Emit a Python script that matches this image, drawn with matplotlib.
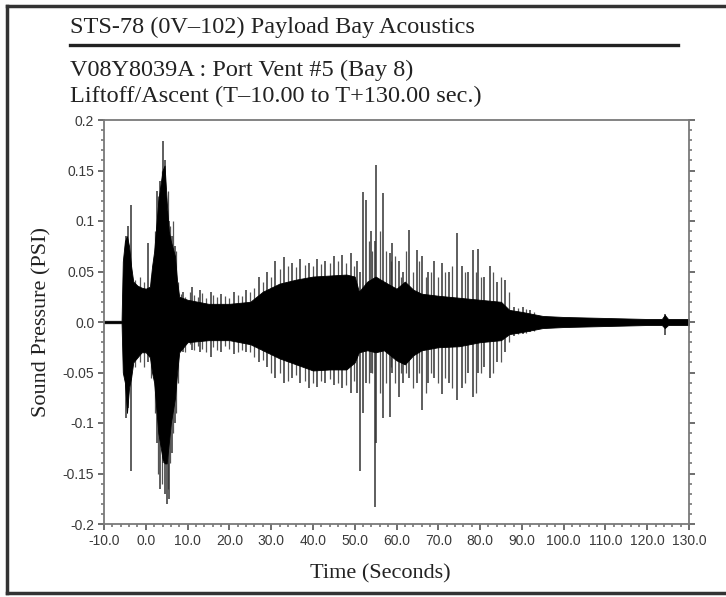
import matplotlib.pyplot as plt
from matplotlib.ticker import MultipleLocator
from matplotlib.lines import Line2D

# envelope of the dense black trace (time in s, upper and lower PSI)
env_t = [-10, -5.8, -5.5, -5.0, -4.5, -4.0, -3.5, -3.0, -2.0, -1.0, 0.0, 1.0, 1.5, 2.0, 3.0,
         4.0, 4.5, 5.0, 5.5, 6.0, 7.0, 7.5, 8.0, 10, 15, 20, 25, 28, 32, 36, 40, 44, 48, 50,
         51, 53, 55, 57, 60, 62, 64, 66, 70, 75, 80, 85, 87, 90, 95, 100, 110, 120, 123.5,
         124.2, 125, 130]
env_hi = [0.0012, 0.0012, 0.06, 0.08, 0.085, 0.075, 0.055, 0.04, 0.036, 0.034, 0.033, 0.035,
          0.055, 0.07, 0.12, 0.15, 0.155, 0.12, 0.09, 0.08, 0.065, 0.04, 0.025, 0.022, 0.018,
          0.018, 0.02, 0.03, 0.038, 0.042, 0.045, 0.046, 0.047, 0.045, 0.03, 0.04, 0.045, 0.04,
          0.033, 0.04, 0.032, 0.028, 0.026, 0.024, 0.022, 0.02, 0.012, 0.01, 0.006, 0.005,
          0.004, 0.003, 0.003, 0.007, 0.003, 0.003]
env_lo = [-0.0012, -0.0012, -0.05, -0.06, -0.09, -0.065, -0.055, -0.04, -0.035, -0.03, -0.03,
          -0.035, -0.05, -0.06, -0.11, -0.135, -0.14, -0.14, -0.12, -0.1, -0.075, -0.05, -0.03,
          -0.02, -0.018, -0.018, -0.022, -0.028, -0.036, -0.042, -0.048, -0.047, -0.047, -0.04,
          -0.03, -0.028, -0.03, -0.028, -0.038, -0.042, -0.033, -0.028, -0.025, -0.024, -0.02,
          -0.018, -0.012, -0.01, -0.006, -0.005, -0.004, -0.003, -0.003, -0.006, -0.003, -0.003]

# single peaks sticking out of the trace
spike_t = [-4.8, -4.2, -3.6, 0.6, 2.8, 3.5, 4.2, 4.6, 5.1, 5.6, 6.3, 7.0, 9, 11, 13, 15.5, 18,
           21, 24, 27, 29, 31, 33, 35, 37, 39, 41, 43, 45, 47, 49, 50.5, 51.3, 52.1, 52.8, 53.8,
           54.8, 55.2, 56.8, 58.4, 59, 60.5, 61.5, 63, 64.8, 66, 67.5, 69, 70.8, 72.5, 74.5,
           75.6, 77, 78.2, 79.5, 81, 82.4, 84, 86, 88, 90.3, 92, 124.2]
spike_hi = [0.085, 0.095, 0.116, 0.078, 0.13, 0.14, 0.179, 0.16, 0.11, 0.1, 0.085, 0.075, 0.03,
            0.035, 0.032, 0.03, 0.028, 0.03, 0.032, 0.045, 0.05, 0.06, 0.064, 0.058, 0.062,
            0.058, 0.062, 0.06, 0.065, 0.066, 0.068, 0.06, 0.05, 0.129, 0.121, 0.09, 0.08, 0.155,
            0.128, 0.068, 0.078, 0.06, 0.05, 0.091, 0.071, 0.065, 0.05, 0.06, 0.058, 0.05, 0.088,
            0.055, 0.05, 0.071, 0.072, 0.045, 0.055, 0.04, 0.042, 0.015, 0.015, 0.012, 0.008]
spike_lo = [-0.095, -0.085, -0.148, -0.04, -0.12, -0.165, -0.14, -0.17, -0.18, -0.175, -0.13,
            -0.1, -0.03, -0.028, -0.03, -0.035, -0.03, -0.032, -0.03, -0.04, -0.045, -0.055,
            -0.06, -0.055, -0.06, -0.065, -0.064, -0.06, -0.062, -0.065, -0.07, -0.07, -0.148,
            -0.09, -0.06, -0.05, -0.183, -0.12, -0.095, -0.094, -0.05, -0.074, -0.06, -0.055,
            -0.06, -0.087, -0.06, -0.055, -0.071, -0.06, -0.077, -0.065, -0.05, -0.074, -0.05,
            -0.045, -0.055, -0.04, -0.03, -0.014, -0.012, -0.01, -0.013]

# smaller ragged peaks along the edge of the trace
fringe_t = [-2.5, -1.5, -0.5, 1.2, 2.2, 3.0, 3.8, 5.3, 5.9, 6.6, 7.3, 7.8, 8.5, 9.5, 10.5,
            11.5, 12.5, 13.5, 14.5, 16, 17, 19, 20, 22, 23, 25, 26, 28, 30, 32, 34, 36, 38, 40,
            42, 44, 46, 48, 49.8, 53.3, 54.2, 56, 57.5, 58.8, 59.6, 61, 62.3, 64, 65.5, 67,
            68.2, 70, 71.7, 73.3, 76.3, 79, 80.3, 83.2, 85, 87, 89, 91, 93]
fringe_hi = [0.042, 0.045, 0.04, 0.045, 0.09, 0.125, 0.15, 0.13, 0.095, 0.1, 0.07, 0.04, 0.028,
             0.025, 0.03, 0.027, 0.025, 0.029, 0.024, 0.027, 0.025, 0.026, 0.024, 0.027, 0.026,
             0.03, 0.034, 0.04, 0.045, 0.052, 0.055, 0.054, 0.056, 0.055, 0.057, 0.058, 0.06,
             0.058, 0.055, 0.08, 0.07, 0.09, 0.07, 0.06, 0.065, 0.045, 0.07, 0.05, 0.06, 0.045,
             0.05, 0.045, 0.05, 0.055, 0.05, 0.05, 0.045, 0.05, 0.045, 0.03, 0.014, 0.013, 0.01]
fringe_lo = [-0.045, -0.04, -0.045, -0.055, -0.09, -0.15, -0.16, -0.165, -0.14, -0.11, -0.09,
             -0.06, -0.025, -0.03, -0.022, -0.028, -0.024, -0.027, -0.03, -0.025, -0.028,
             -0.024, -0.027, -0.03, -0.028, -0.03, -0.035, -0.038, -0.05, -0.05, -0.058,
             -0.052, -0.058, -0.06, -0.058, -0.056, -0.06, -0.062, -0.058, -0.06, -0.05, -0.07,
             -0.06, -0.045, -0.06, -0.05, -0.05, -0.065, -0.05, -0.07, -0.05, -0.06, -0.055,
             -0.065, -0.06, -0.07, -0.05, -0.05, -0.04, -0.02, -0.012, -0.011, -0.009]

xticks = [-10, 0, 10, 20, 30, 40, 50, 60, 70, 80, 90, 100, 110, 120, 130]
xlabels = ['-10.0', '0.0', '10.0', '20.0', '30.0', '40.0', '50.0', '60.0', '70.0', '80.0',
           '90.0', '100.0', '110.0', '120.0', '130.0']
yticks = [0.2, 0.15, 0.1, 0.05, 0.0, -0.05, -0.1, -0.15, -0.2]
ylabels = ['0.2', '0.15', '0.1', '0.05', '0.0', '-0.05', '-0.1', '-0.15', '-0.2']

serif = 'Liberation Serif'
sans = 'Liberation Sans'

fig = plt.figure(figsize=(7.26, 5.97), dpi=100)
ax = fig.add_axes([104/726, 1 - 524/597, 585/726, 404/597])

# peaks first, solid trace on top so the core stays black
ax.vlines(fringe_t, fringe_lo, fringe_hi, color='#555555', lw=0.9, zorder=1)
ax.vlines(spike_t, spike_lo, spike_hi, color='#333333', lw=1.1, zorder=1)
ax.fill_between(env_t, env_lo, env_hi, color='black', lw=0.6, zorder=2)

ax.set_xlim(-10, 130)
ax.set_ylim(-0.2, 0.2)
ax.set_xticks(xticks)
ax.set_xticklabels(xlabels)
ax.set_yticks(yticks)
ax.set_yticklabels(ylabels)
ax.xaxis.set_minor_locator(MultipleLocator(2))
ax.yaxis.set_minor_locator(MultipleLocator(0.01))
ax.tick_params(which='major', length=4, width=1.2, color='#555555', labelcolor='#3a3a3a',
               labelsize=10, pad=3)
ax.tick_params(which='minor', length=2.5, width=1.2, color='#777777')
ax.tick_params(axis='y', which='both', right=True)
for lab in ax.get_xticklabels() + ax.get_yticklabels():
    lab.set_family(sans)
for s in ax.spines.values():
    s.set_color('#7a7a7a')
    s.set_linewidth(1.3)

ax.set_xlabel('Time (Seconds)', family=serif, fontsize=16, color='#222222')
ax.xaxis.set_label_coords((380 - 104) / 585, -0.1)
ax.set_ylabel('Sound Pressure (PSI)', family=serif, fontsize=16, color='#222222', labelpad=8)

# header text above the plot
fig.text(70/726, 1 - 27/597, 'STS-78 (0V\u2013102) Payload Bay Acoustics', family=serif,
         fontsize=17.5, color='#222222', va='center')
fig.add_artist(Line2D([70/726, 678/726], [1 - 45/597, 1 - 45/597], color='#222222', lw=2.4))
fig.text(70/726, 1 - 70/597, 'V08Y8039A : Port Vent #5 (Bay 8)', family=serif,
         fontsize=17.5, color='#222222', va='center')
fig.text(70/726, 1 - 96/597, 'Liftoff/Ascent (T\u201310.00 to T+130.00 sec.)', family=serif,
         fontsize=17.5, color='#222222', va='center')

# outer frame
fig.add_artist(Line2D([7/726, 7/726], [1 - 6/597, 1 - 593/597], color='#333333', lw=2.5))
fig.add_artist(Line2D([7/726, 1.0], [1 - 6/597, 1 - 6/597], color='#333333', lw=2.5))
fig.add_artist(Line2D([7/726, 1.0], [1 - 593/597, 1 - 593/597], color='#333333', lw=2.5))

fig.savefig('out.png', dpi=100)
